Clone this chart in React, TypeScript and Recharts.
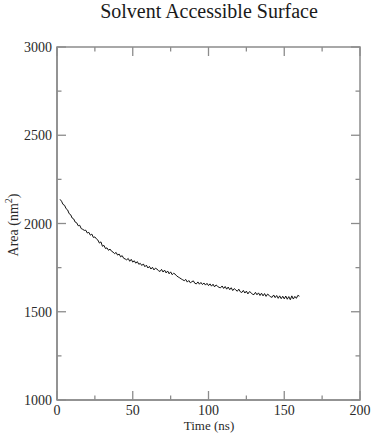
import { LineChart, Line, XAxis, YAxis, ReferenceArea } from "recharts";

// 시간 (ns)
const times = [
  2, 3, 4, 5, 6, 7, 8, 9, 10, 11,
  12, 13, 14, 15, 16, 17, 18, 19, 20, 21,
  22, 23, 24, 25, 26, 27, 28, 29, 30, 31,
  32, 33, 34, 35, 36, 37, 38, 39, 40, 41,
  42, 43, 44, 45, 46, 47, 48, 49, 50, 51,
  52, 53, 54, 55, 56, 57, 58, 59, 60, 61,
  62, 63, 64, 65, 66, 67, 68, 69, 70, 71,
  72, 73, 74, 75, 76, 77, 78, 79, 80, 81,
  82, 83, 84, 85, 86, 87, 88, 89, 90, 91,
  92, 93, 94, 95, 96, 97, 98, 99, 100, 101,
  102, 103, 104, 105, 106, 107, 108, 109, 110, 111,
  112, 113, 114, 115, 116, 117, 118, 119, 120, 121,
  122, 123, 124, 125, 126, 127, 128, 129, 130, 131,
  132, 133, 134, 135, 136, 137, 138, 139, 140, 141,
  142, 143, 144, 145, 146, 147, 148, 149, 150, 151,
  152, 153, 154, 155, 156, 157, 158, 159, 160,
];

// SAS 면적 (nm^2)
const areas = [
  2137, 2126, 2108, 2103, 2084, 2077, 2056, 2050, 2031, 2026,
  2008, 2004, 1987, 1990, 1971, 1967, 1961, 1962, 1946, 1950,
  1934, 1940, 1921, 1924, 1913, 1906, 1889, 1896, 1871, 1876,
  1858, 1862, 1848, 1855, 1843, 1838, 1829, 1836, 1821, 1827,
  1811, 1818, 1803, 1799, 1794, 1802, 1786, 1797, 1781, 1789,
  1775, 1784, 1769, 1774, 1762, 1771, 1755, 1764, 1748, 1757,
  1742, 1752, 1737, 1747, 1741, 1733, 1728, 1740, 1725, 1736,
  1720, 1731, 1715, 1726, 1710, 1718, 1713, 1703, 1697, 1692,
  1686, 1681, 1676, 1683, 1668, 1677, 1664, 1670, 1675, 1661,
  1658, 1669, 1656, 1666, 1654, 1663, 1651, 1661, 1648, 1658,
  1645, 1656, 1641, 1652, 1644, 1638, 1636, 1646, 1632, 1643,
  1628, 1640, 1625, 1636, 1620, 1631, 1624, 1616, 1628, 1613,
  1609, 1621, 1606, 1617, 1601, 1614, 1609, 1599, 1597, 1610,
  1596, 1607, 1592, 1605, 1590, 1603, 1587, 1600, 1593, 1584,
  1582, 1595, 1580, 1592, 1576, 1590, 1574, 1588, 1573, 1589,
  1571, 1586, 1568, 1590, 1572, 1587, 1576, 1593, 1588,
];

const xTicks = [0, 25, 50, 75, 100, 125, 150, 175, 200];
const yTicks = [1000, 1250, 1500, 1750, 2000, 2250, 2500, 2750, 3000];

const W = 373;
const H = 433;
const MARGIN = { top: 47, right: 13, left: 0, bottom: 0 };
const Y_AXIS_W = 57;
const X_AXIS_H = 33;
const PLOT_W = W - MARGIN.left - MARGIN.right - Y_AXIS_W;
const PLOT_H = H - MARGIN.top - MARGIN.bottom - X_AXIS_H;

const AXIS = "#8c8c8c";
const TEXT = "#2a2a2a";
const FONT = "'Liberation Serif', 'DejaVu Serif', serif";
const MAJOR = 9;
const MINOR = 4.5;

const data = times.map((t, i) => ({ time: t, area: areas[i] }));

// 아래 + 위 눈금 (안쪽)
function XTick({ x, y, payload }: any) {
  const major = payload.value % 50 === 0;
  const len = major ? MAJOR : MINOR;
  const top = y - PLOT_H;
  return (
    <g>
      <line x1={x} x2={x} y1={y} y2={y - len} stroke={AXIS} strokeWidth={1.3} />
      <line x1={x} x2={x} y1={top} y2={top + len} stroke={AXIS} strokeWidth={1.3} />
      {major && (
        <text x={x} y={y + 15} textAnchor="middle" fontSize={14} fontFamily={FONT} fill={TEXT}>
          {payload.value}
        </text>
      )}
    </g>
  );
}

// 왼쪽 + 오른쪽 눈금 (안쪽)
function YTick({ x, y, payload }: any) {
  const major = payload.value % 500 === 0;
  const len = major ? MAJOR : MINOR;
  const right = x + PLOT_W;
  return (
    <g>
      <line x1={x} x2={x + len} y1={y} y2={y} stroke={AXIS} strokeWidth={1.3} />
      <line x1={right} x2={right - len} y1={y} y2={y} stroke={AXIS} strokeWidth={1.3} />
      {major && (
        <text x={x - 5} y={y + 5} textAnchor="end" fontSize={14} fontFamily={FONT} fill={TEXT}>
          {payload.value}
        </text>
      )}
    </g>
  );
}

export default function App() {
  return (
    <div style={{ position: "absolute", left: 0, top: 0, width: W, height: H, background: "#fff" }}>
      <LineChart width={W} height={H} data={data} margin={MARGIN}>
        <ReferenceArea x1={0} x2={200} y1={1000} y2={3000} fill="none" stroke={AXIS} strokeWidth={1.5} />
        <XAxis
          dataKey="time"
          type="number"
          domain={[0, 200]}
          ticks={xTicks}
          interval={0}
          tickSize={0}
          tickMargin={0}
          tickLine={false}
          axisLine={{ stroke: AXIS, strokeWidth: 1.5 }}
          height={X_AXIS_H}
          tick={XTick}
        />
        <YAxis
          type="number"
          domain={[1000, 3000]}
          ticks={yTicks}
          interval={0}
          tickSize={0}
          tickMargin={0}
          tickLine={false}
          axisLine={{ stroke: AXIS, strokeWidth: 1.5 }}
          width={Y_AXIS_W}
          tick={YTick}
        />
        <Line
          dataKey="area"
          stroke="#111"
          strokeWidth={1}
          dot={false}
          isAnimationActive={false}
        />
      </LineChart>
      {/* 제목, 축 라벨 */}
      <svg width={W} height={H} style={{ position: "absolute", left: 0, top: 0, pointerEvents: "none" }}>
        <text x={209} y={18} textAnchor="middle" fontSize={20} fontFamily={FONT} fill="#1a1a1a">
          Solvent Accessible Surface
        </text>
        <text x={209} y={430} textAnchor="middle" fontSize={13} fontFamily={FONT} fill={TEXT}>
          Time (ns)
        </text>
        <text
          x={0}
          y={0}
          transform="translate(18, 225) rotate(-90)"
          textAnchor="middle"
          fontSize={14}
          fontFamily={FONT}
          fill={TEXT}
        >
          Area (nm<tspan dy={-6} fontSize={10}>2</tspan><tspan dy={6}>)</tspan>
        </text>
      </svg>
    </div>
  );
}
